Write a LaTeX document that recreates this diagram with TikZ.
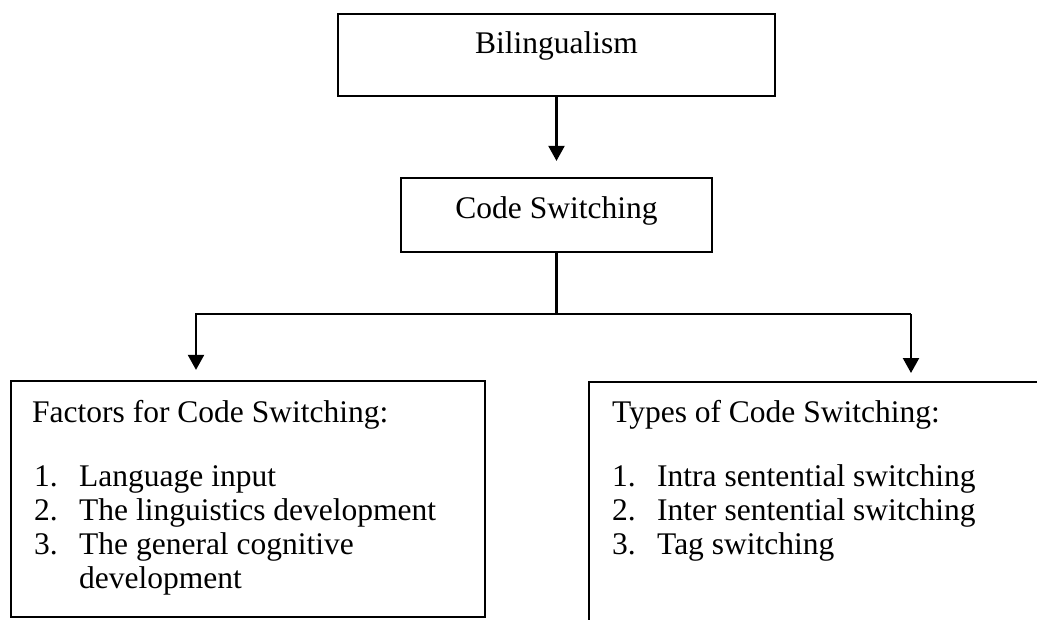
\documentclass[tikz,border=0pt]{standalone}
\usepackage{fontspec}
\setmainfont{Liberation Serif}
\usetikzlibrary{arrows.meta}
\tikzset{
  box/.style={draw, line width=2.2pt, rectangle, inner sep=0pt, font=\fontsize{31.5}{34}\selectfont},
  txt/.style={inner sep=0pt, font=\fontsize{31.5}{34}\selectfont, align=left},
  conn/.style={line width=2.2pt},
  arr/.style={conn, -{Triangle[width=16pt,length=15pt]}},
}
\begin{document}
\begin{tikzpicture}[x=1pt,y=-1pt]
\useasboundingbox (0,0) rectangle (1037,619);
\clip (0,0) rectangle (1037,619);
\node[box, minimum width=437pt, minimum height=82pt, text height=20pt, text depth=24pt] (bil) at (556.5,55) {Bilingualism};
\node[box, minimum width=311pt, minimum height=74pt, text height=24pt, text depth=18pt] (cs) at (556.5,215) {Code Switching};
\node[box, minimum width=474pt, minimum height=236pt] (lbox) at (248,499) {};
\node[box, minimum width=520pt, minimum height=320pt, anchor=north west] (rbox) at (588,381) {};
\node[txt, anchor=base west] (ltext) at (32,422) {\begin{tabular}[t]{@{}p{47pt}@{}l@{}}
\multicolumn{2}{@{}l@{}}{Factors for Code Switching:}\\[30pt]
\hspace*{2pt}1. & Language input\\
\hspace*{2pt}2. & The linguistics development\\
\hspace*{2pt}3. & The general cognitive\\
   & development
\end{tabular}};
\node[txt, anchor=base west] (rtext) at (612,422) {\begin{tabular}[t]{@{}p{45pt}@{}l@{}}
\multicolumn{2}{@{}l@{}}{Types of Code Switching:}\\[30pt]
1. & Intra sentential switching\\
2. & Inter sentential switching\\
3. & Tag switching
\end{tabular}};
\coordinate (jl) at (196,314);
\coordinate (jr) at (911,314);
\draw[arr, shorten >=16pt] (bil) -- (cs);
\draw[conn] (cs.south) -- (cs.south |- jl);
\draw[arr, shorten >=10pt] (jr) -- (jl) -- (jl |- lbox.north);
\draw[arr, shorten >=8pt] (jr) -- (jr |- rbox.north);
\end{tikzpicture}
\end{document}
